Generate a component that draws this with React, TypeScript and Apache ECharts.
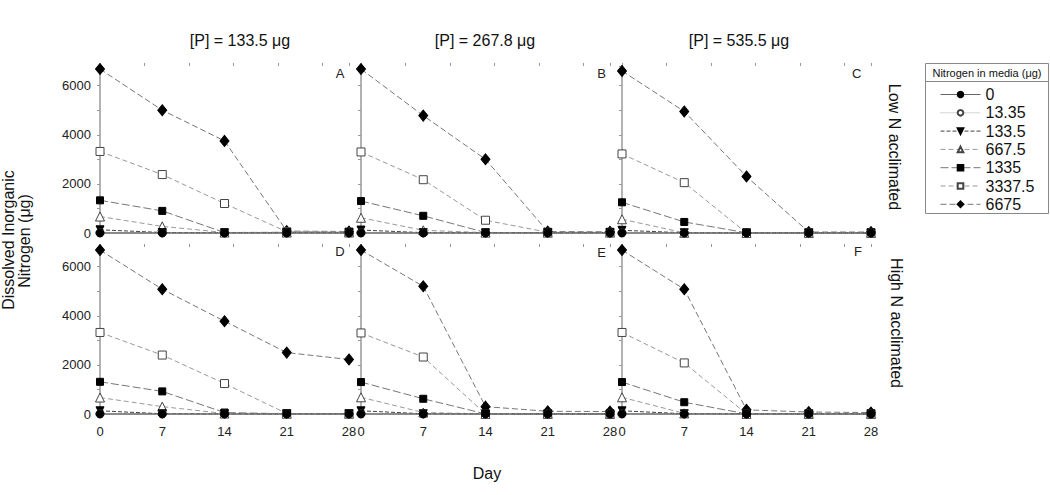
import React, { useEffect, useRef } from "react";
import * as echarts from "echarts";

const days = [0, 7, 14, 21, 28];
const nLevels = ["0", "13.35", "133.5", "667.5", "1335", "3337.5", "6675"];
const pTitles = ["[P] = 133.5 \u03bcg", "[P] = 267.8 \u03bcg", "[P] = 535.5 \u03bcg"];
const panelLetters = ["A", "B", "C", "D", "E", "F"];
const rowLabels = ["Low N acclimated", "High N acclimated"];
const yTickLabels = [0, 2000, 4000, 6000];

// rows: nLevels order; columns: days
const lowN_P133 = [
  [0, 0, 0, 0, 0],
  [13, 5, 3, 3, 3],
  [130, 20, 10, 10, 10],
  [670, 270, 20, 20, 20],
  [1330, 900, 20, 30, 30],
  [3320, 2380, 1200, 50, 40],
  [6675, 5000, 3750, 80, 60],
];
const lowN_P268 = [
  [0, 0, 0, 0, 0],
  [13, 5, 3, 3, 3],
  [120, 15, 10, 10, 10],
  [620, 110, 15, 15, 15],
  [1300, 700, 20, 20, 20],
  [3300, 2170, 520, 30, 30],
  [6675, 4780, 3000, 60, 50],
];
const lowN_P536 = [
  [0, 0, 0, 0, 0],
  [13, 3, 3, 3, 3],
  [110, 10, 5, 5, 5],
  [560, 10, 5, 5, 5],
  [1250, 450, 10, 10, 10],
  [3220, 2050, 0, 10, 10],
  [6600, 4950, 2300, 40, 40],
];
const highN_P133 = [
  [0, 0, 0, 0, 0],
  [13, 5, 3, 3, 3],
  [130, 10, 5, 5, 5],
  [670, 300, 20, 10, 10],
  [1310, 920, 60, 10, 10],
  [3320, 2400, 1240, 20, 20],
  [6675, 5080, 3780, 2500, 2220],
];
const highN_P268 = [
  [0, 0, 0, 0, 0],
  [13, 5, 3, 3, 3],
  [130, 10, 5, 5, 5],
  [680, 60, 5, 5, 5],
  [1300, 620, 5, 5, 5],
  [3300, 2320, 0, 0, 0],
  [6675, 5200, 300, 110, 100],
];
const highN_P536 = [
  [0, 0, 0, 0, 0],
  [13, 5, 3, 3, 3],
  [130, 10, 5, 5, 5],
  [680, 25, 5, 5, 5],
  [1300, 480, 5, 5, 5],
  [3320, 2080, 5, 5, 5],
  [6675, 5080, 170, 80, 60],
];
const panels = [lowN_P133, lowN_P268, lowN_P536, highN_P133, highN_P268, highN_P536];

const FONT = "'Liberation Sans', Arial, sans-serif";
const DOWN_TRI = "path://M0,0 L10,0 L5,9 Z";

const seriesStyles: any[] = [
  { symbol: "circle", symbolSize: 8, fill: "#000", line: { type: "solid", color: "#666" } },
  { symbol: "circle", symbolSize: 8, fill: "#fff", line: { type: "dotted", color: "#aaa" } },
  { symbol: DOWN_TRI, symbolSize: 8, fill: "#000", line: { type: [4, 2], color: "#444" } },
  { symbol: "triangle", symbolSize: 9, fill: "#fff", line: { type: [5, 3], color: "#999" } },
  { symbol: "rect", symbolSize: 7, fill: "#000", line: { type: [8, 3], color: "#777" } },
  { symbol: "rect", symbolSize: 8, fill: "#fff", line: { type: [5, 3], color: "#999" } },
  { symbol: "diamond", symbolSize: [9, 11], fill: "#000", line: { type: [6, 3], color: "#777" } },
];

const gridLefts = [100, 361, 622];
const gridTops = [66, 247];
const GW = 249;
const GH = 167;

export default function App() {
  const ref = useRef<HTMLDivElement>(null);
  useEffect(() => {
    if (!ref.current) return;
    const chart = echarts.init(ref.current, null, { renderer: "svg" });
    const grids: any[] = [];
    const xAxes: any[] = [];
    const xTickAxes: any[] = [];
    const yAxes: any[] = [];
    const series: any[] = [];
    for (let i = 0; i < 6; i++) {
      const row = Math.floor(i / 3);
      const col = i % 3;
      grids.push({ left: gridLefts[col], top: gridTops[row], width: GW, height: GH });
      xAxes.push({
        type: "value", gridIndex: i, min: 0, max: 28, interval: 7,
        axisLine: { show: true, lineStyle: { color: "#999", width: 1.5 } },
        axisTick: { show: false },
        splitLine: { show: false },
        axisLabel: { show: row === 1, fontSize: 13, color: "#222", margin: 11, fontFamily: FONT },
      });
      xTickAxes.push({
        type: "value", gridIndex: i, min: 0, max: 28, interval: 5,
        axisLine: { show: false },
        axisTick: { show: true, length: 3, lineStyle: { color: "#999" } },
        splitLine: { show: false },
        axisLabel: { show: false },
      });
      yAxes.push({
        type: "value", gridIndex: i, min: 0, max: 6800, interval: 1000,
        axisLine: { show: true, lineStyle: { color: "#999", width: 1.5 } },
        axisTick: { show: true, length: 3, lineStyle: { color: "#999" } },
        splitLine: { show: false },
        axisLabel: {
          show: col === 0, fontSize: 13, color: "#222", margin: 9, fontFamily: FONT,
          formatter: (v: number) => (yTickLabels.indexOf(v) >= 0 ? String(v) : ""),
        },
      });
      panels[i].forEach((vals, k) => {
        const st = seriesStyles[k];
        series.push({
          type: "line", name: nLevels[k], xAxisIndex: i, yAxisIndex: i,
          data: days.map((d, j) => [d, vals[j]]),
          symbol: st.symbol, symbolSize: st.symbolSize,
          itemStyle: { color: st.fill, borderColor: st.fill === "#fff" ? "#444" : "#000", borderWidth: 1 },
          lineStyle: { width: 1, type: st.line.type, color: st.line.color },
          clip: false,
          z: 2 + (6 - k),
        });
      });
    }
    const graphic: any[] = [];
    pTitles.forEach((t, c) => {
      graphic.push({ type: "text", x: gridLefts[c] + 140 - (c === 0 ? 0 : 16 + (c === 2 ? 7 : 0)), y: 40,
        style: { text: t, fontSize: 16, fontFamily: FONT, fill: "#111", align: "center", verticalAlign: "middle" } });
    });
    const letterPos = [[340, 73], [601.7, 73], [856.7, 73], [340, 251.7], [601.7, 252], [858, 251]];
    panelLetters.forEach((l, i) => {
      graphic.push({ type: "text", x: letterPos[i][0], y: letterPos[i][1],
        style: { text: l, fontSize: 13, fontFamily: FONT, fill: "#222", align: "center", verticalAlign: "middle" } });
    });
    graphic.push({ type: "text", x: 894, y: 147, rotation: -Math.PI / 2,
      style: { text: rowLabels[0], fontSize: 16, fontFamily: FONT, fill: "#111", align: "center", verticalAlign: "middle" } });
    graphic.push({ type: "text", x: 896.5, y: 323, rotation: -Math.PI / 2,
      style: { text: rowLabels[1], fontSize: 16, fontFamily: FONT, fill: "#111", align: "center", verticalAlign: "middle" } });
    graphic.push({ type: "text", x: 8, y: 240, rotation: Math.PI / 2,
      style: { text: "Dissolved Inorganic", fontSize: 16, fontFamily: FONT, fill: "#111", align: "center", verticalAlign: "middle" } });
    graphic.push({ type: "text", x: 24, y: 241, rotation: Math.PI / 2,
      style: { text: "Nitrogen (\u03bcg)", fontSize: 16, fontFamily: FONT, fill: "#111", align: "center", verticalAlign: "middle" } });
    graphic.push({ type: "text", x: 487, y: 473,
      style: { text: "Day", fontSize: 16, fontFamily: FONT, fill: "#111", align: "center", verticalAlign: "middle" } });
    // legend box
    graphic.push({ type: "rect", shape: { x: 925.5, y: 63.5, width: 123, height: 150 },
      style: { fill: "#fff", stroke: "#888", lineWidth: 1 }, z: -1 });
    graphic.push({ type: "line", shape: { x1: 925.5, y1: 81.5, x2: 1048.5, y2: 81.5 },
      style: { stroke: "#888", lineWidth: 1 } });
    graphic.push({ type: "text", x: 987, y: 72.5,
      style: { text: "Nitrogen in media (\u03bcg)", fontSize: 11, fontFamily: FONT, fill: "#111", align: "center", verticalAlign: "middle" } });

    chart.setOption({
      animation: false,
      backgroundColor: "#fff",
      grid: grids,
      xAxis: [...xAxes, ...xTickAxes],
      yAxis: yAxes,
      series,
      legend: {
        data: nLevels, orient: "vertical", left: 940, top: 86.5, padding: 0,
        itemWidth: 40, itemHeight: 7, itemGap: 2.3,
        lineStyle: { width: 1 },
        textStyle: { fontSize: 16, color: "#111", fontFamily: FONT, lineHeight: 16 },
        selectedMode: false,
      },
      graphic,
    });
    return () => chart.dispose();
  }, []);
  return <div ref={ref} style={{ position: "absolute", left: 0, top: 0, width: 1050, height: 495 }} />;
}
